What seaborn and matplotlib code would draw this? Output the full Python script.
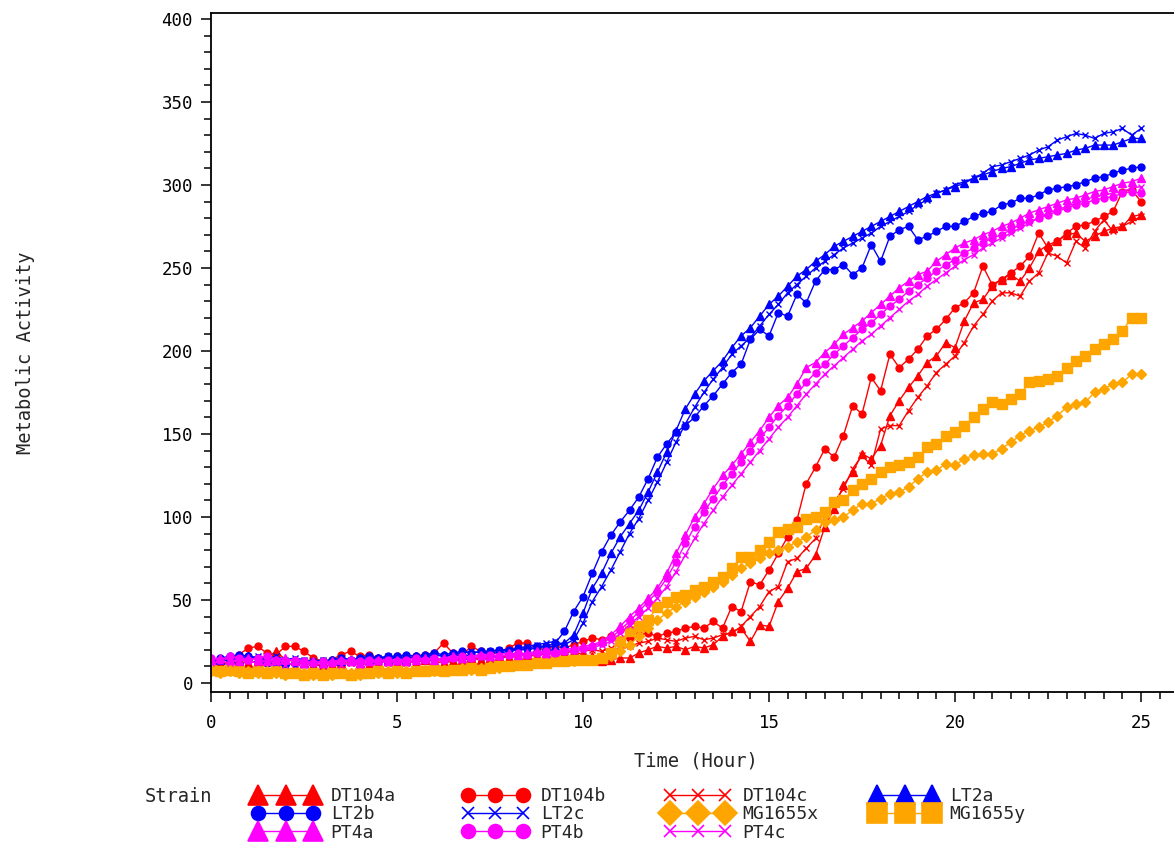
import numpy as np
import pandas as pd
import seaborn as sns
import matplotlib.pyplot as plt
from matplotlib.lines import Line2D
from matplotlib.ticker import MultipleLocator

sns.set_theme(style='ticks')
plt.rcParams['font.family'] = ['DejaVu Sans Mono']

# readings every 15 minutes, 0 - 25 h
hours = np.arange(101) * 0.25

dt104a = [10, 12, 11, 13, 12, 13, 15, 19, 14, 13,
          12, 11, 10, 11, 12, 13, 12, 11, 12, 13,
          12, 13, 12, 14, 13, 12, 13, 14, 15, 14,
          15, 16, 15, 16, 17, 16, 18, 17, 18, 19,
          17,
          16, 13, 14, 15, 15, 18, 20, 22, 21, 22,
          20, 22, 21, 23, 28, 31, 33, 25, 35, 34,
          49, 57, 67, 69, 77, 94, 105, 119, 127, 138,
          135, 143, 161, 170, 178, 185, 193, 197, 205, 202,
          218, 229, 231, 239, 243, 246, 242, 250, 260, 264,
          266, 270, 271, 266, 269, 272, 274, 275, 281, 282]
dt104b = [12, 13, 14, 17, 21, 22, 18, 17, 22, 22,
          19, 15, 13, 14, 17, 19, 16, 17, 15, 15,
          16, 15, 16, 17, 18, 24, 18, 17, 22, 19,
          18, 19, 21, 24, 24, 21, 20, 22, 21, 23,
          25,
          27, 26, 28, 26, 27, 29, 30, 28, 30, 31,
          33, 34, 33, 37, 33, 46, 43, 61, 59, 68,
          78, 88, 98, 120, 130, 141, 136, 149, 167, 162,
          184, 176, 198, 190, 195, 201, 209, 213, 219, 226,
          229, 235, 251, 240, 243, 247, 251, 257, 271, 262,
          266, 271, 275, 276, 278, 281, 284, 296, 297, 290]
dt104c = [11, 12, 12, 11, 13, 12, 12, 13, 12, 11,
          12, 11, 11, 10, 11, 12, 11, 12, 13, 12,
          13, 12, 13, 13, 14, 13, 14, 15, 14, 15,
          15, 16, 16, 17, 16, 17, 18, 18, 19, 20,
          19,
          20, 19, 21, 20, 22, 24, 25, 27, 26, 25,
          27, 28, 26, 27, 29, 30, 34, 40, 46, 55,
          58, 73, 75, 81, 87, 100, 109, 117, 129, 137,
          131, 153, 155, 155, 164, 172, 179, 187, 192, 197,
          205, 215, 222, 230, 235, 235, 233, 242, 247, 259,
          257, 253, 266, 262, 272, 279, 272, 275, 278, 281]
lt2a = [13, 14, 15, 14, 16, 15, 14, 15, 13, 14,
        12, 13, 12, 14, 13, 14, 15, 14, 15, 14,
        15, 14, 16, 15, 16, 17, 16, 17, 16, 17,
        18, 18, 19, 20, 20, 21, 22, 22, 24, 29,
        42,
        57, 66, 78, 88, 96, 104, 115, 127, 139, 152,
        165, 174, 182, 188, 194, 202, 209, 214, 221, 228,
        233, 239, 245, 249, 254, 258, 263, 266, 269, 272,
        275, 278, 281, 284, 287, 290, 293, 295, 297, 299,
        301, 304, 306, 308, 310, 311, 313, 315, 316, 317,
        318, 319, 321, 322, 324, 324, 324, 326, 328, 328]
lt2b = [14, 15, 16, 17, 16, 15, 12, 11, 11, 12,
        13, 12, 13, 14, 15, 14, 15, 16, 15, 16,
        16, 17, 16, 17, 18, 17, 18, 19, 18, 19,
        19, 20, 20, 21, 21, 22, 22, 24, 31, 43,
        52,
        66, 79, 89, 97, 104, 112, 123, 136, 144, 151,
        155, 160, 167, 173, 180, 187, 192, 207, 213, 209,
        223, 221, 234, 229, 242, 249, 249, 252, 246, 250,
        264, 254, 269, 273, 275, 267, 269, 272, 275, 275,
        278, 281, 283, 284, 288, 289, 292, 292, 294, 297,
        298, 299, 300, 302, 304, 305, 307, 309, 310, 311]
lt2c = [12, 13, 14, 16, 15, 16, 15, 16, 14, 15,
        14, 13, 14, 13, 15, 14, 13, 14, 15, 16,
        15, 16, 15, 16, 17, 16, 17, 18, 19, 18,
        19, 20, 19, 21, 22, 23, 24, 25, 23, 26,
        36,
        49, 58, 68, 79, 90, 99, 110, 121, 133, 145,
        156, 166, 175, 183, 190, 198, 203, 208, 215, 222,
        228, 235, 240, 245, 250, 254, 258, 262, 265, 268,
        271, 275, 278, 281, 284, 288, 291, 295, 297, 300,
        302, 304, 307, 311, 312, 314, 316, 318, 321, 323,
        327, 329, 331, 330, 328, 331, 332, 334, 330, 334]
mg1655x = [7, 6, 7, 6, 7, 6, 7, 6, 5, 6,
           6, 5, 6, 5, 6, 6, 5, 6, 6, 7,
           6, 7, 7, 8, 7, 8, 8, 9, 8, 9,
           10, 9, 10, 11, 11, 12, 12, 13, 13, 13,
           14,
           14, 15, 16, 19, 23, 28, 33, 38, 42, 46,
           49, 52, 55, 58, 61, 65, 69, 72, 75, 78,
           80, 82, 85, 88, 92, 97, 98, 100, 104, 108,
           108, 111, 114, 115, 118, 123, 127, 128, 132, 131,
           135, 137, 138, 138, 141, 145, 149, 152, 154, 157,
           161, 166, 168, 169, 175, 177, 180, 181, 186, 186]
mg1655y = [8, 7, 8, 7, 6, 7, 6, 7, 6, 6,
           5, 6, 5, 6, 6, 5, 6, 6, 7, 6,
           7, 6, 7, 7, 8, 7, 8, 8, 9, 8,
           9, 10, 10, 11, 11, 12, 12, 13, 13, 14,
           14,
           14, 15, 18, 25, 31, 34, 38, 46, 49, 52,
           53, 56, 58, 61, 64, 69, 76, 76, 80, 85,
           91, 93, 94, 99, 100, 103, 109, 110, 116, 120,
           123, 127, 130, 131, 133, 136, 142, 144, 149, 151,
           155, 160, 165, 169, 168, 171, 174, 181, 182, 183,
           185, 190, 194, 197, 201, 204, 207, 212, 220, 220]
pt4a = [14, 15, 14, 13, 15, 14, 13, 14, 15, 13,
        12, 13, 12, 13, 14, 13, 12, 13, 14, 13,
        14, 13, 14, 15, 14, 15, 16, 15, 16, 17,
        16, 17, 18, 17, 18, 19, 18, 19, 20, 21,
        22,
        23, 25, 29, 34, 40, 45, 51, 57, 66, 78,
        89, 100, 108, 117, 125, 131, 138, 145, 152, 160,
        167, 172, 180, 190, 193, 199, 204, 210, 214, 218,
        223, 228, 233, 238, 242, 246, 248, 254, 258, 262,
        265, 267, 270, 272, 275, 277, 280, 283, 285, 287,
        289, 291, 292, 294, 296, 297, 299, 301, 302, 304]
pt4b = [15, 14, 16, 15, 14, 15, 16, 14, 13, 14,
        13, 12, 13, 12, 13, 14, 13, 14, 13, 14,
        13, 14, 15, 14, 15, 14, 15, 16, 15, 16,
        17, 16, 17, 18, 17, 18, 19, 18, 19, 20,
        21,
        22, 24, 27, 32, 37, 43, 49, 55, 63, 73,
        84, 94, 103, 111, 119, 126, 133, 140, 147, 154,
        161, 167, 174, 181, 187, 192, 198, 203, 208, 213,
        217, 222, 227, 231, 236, 240, 244, 248, 252, 255,
        259, 262, 265, 268, 270, 273, 276, 278, 280, 282,
        284, 286, 288, 289, 291, 292, 293, 295, 296, 295]
pt4c = [12, 13, 12, 14, 13, 12, 13, 12, 11, 12,
        11, 12, 11, 12, 11, 12, 11, 12, 13, 12,
        13, 12, 13, 14, 13, 14, 15, 14, 15, 16,
        15, 16, 17, 16, 17, 18, 17, 18, 19, 19,
        20,
        21, 23, 25, 30, 35, 40, 45, 51, 58, 67,
        77, 87, 96, 104, 112, 119, 126, 133, 140, 147,
        154, 160, 167, 174, 180, 186, 191, 196, 201, 206,
        210, 215, 220, 225, 230, 234, 239, 243, 247, 251,
        255, 258, 262, 265, 268, 271, 274, 277, 280, 283,
        285, 287, 289, 291, 293, 294, 295, 296, 298, 299]

strains = ['DT104a', 'DT104b', 'DT104c', 'LT2a', 'LT2b', 'LT2c',
           'MG1655x', 'MG1655y', 'PT4a', 'PT4b', 'PT4c']
series = [dt104a, dt104b, dt104c, lt2a, lt2b, lt2c,
          mg1655x, mg1655y, pt4a, pt4b, pt4c]

red, blue, orange, magenta = '#ff0000', '#0000ff', '#ffa500', '#ff00ff'
colors = [red, red, red, blue, blue, blue, orange, orange, magenta, magenta, magenta]
markers = ['^', 'o', 'x', '^', 'o', 'x', 'D', 's', '^', 'o', 'x']
msizes = {'^': 6, 'o': 5, 'x': 5, 'D': 5, 's': 7.5}
leg_sizes = {'^': 14, 'o': 10, 'x': 9, 'D': 12, 's': 15}

df = pd.DataFrame({'hour': np.tile(hours, len(strains)),
                   'activity': np.concatenate(series),
                   'strain': np.repeat(strains, len(hours))})

fig = plt.figure(figsize=(11.74, 8.49), dpi=100)
ax = fig.add_axes([211 / 1174, 1 - 691.7 / 849, 963 / 1174, 678.4 / 849])

for name, c, m in zip(strains, colors, markers):
    sub = df[df['strain'] == name]
    sns.lineplot(data=sub, x='hour', y='activity', ax=ax, color=c, marker=m,
                 markersize=msizes[m], markeredgecolor=c, markeredgewidth=1,
                 linewidth=1, estimator=None, legend=False)

ax.set_xlim(0, (1174 - 211) / 37.2)
ax.set_ylim(-5.3, 403.4)
ax.xaxis.set_major_locator(MultipleLocator(5))
ax.xaxis.set_minor_locator(MultipleLocator(0.5))
ax.yaxis.set_major_locator(MultipleLocator(50))
ax.yaxis.set_minor_locator(MultipleLocator(10))
ax.tick_params(which='major', direction='out', length=7, width=1.1, labelsize=12.5,
               color='black', labelcolor='black')
ax.tick_params(axis='x', which='major', pad=9)
ax.tick_params(axis='y', which='major', pad=6)
ax.tick_params(which='minor', direction='out', length=5, width=1.1, color='black')
ax.spines['right'].set_visible(False)
for s in ['left', 'bottom', 'top']:
    ax.spines[s].set_linewidth(1.3)
    ax.spines[s].set_color('black')

ax.set_xlabel('Time (Hour)', fontsize=13.5)
ax.set_ylabel('Metabolic Activity', fontsize=13.5)
ax.xaxis.set_label_coords(0.503, -0.088)
ax.yaxis.set_label_coords(-0.183, 0.5)

# legend: "Strain" then four columns of entries
fig.text(178 / 1174, 1 - 797 / 849, 'Strain', fontsize=13.5, ha='center', va='center')
columns = [(253, ['DT104a', 'LT2b', 'PT4a']),
           (463, ['DT104b', 'LT2c', 'PT4b']),
           (665, ['DT104c', 'MG1655x', 'PT4c']),
           (872, ['LT2a', 'MG1655y'])]
for x0, names in columns:
    handles = []
    for name in names:
        i = strains.index(name)
        handles.append(Line2D([], [], color=colors[i], marker=markers[i], lw=1,
                              markersize=leg_sizes[markers[i]],
                              markeredgecolor=colors[i], markeredgewidth=1.2))
    fig.legend(handles, names, loc='upper left', bbox_to_anchor=(x0 / 1174, 1 - 787 / 849),
               frameon=False, numpoints=3, fontsize=13, handlelength=3.6,
               handletextpad=0.7, borderpad=0, borderaxespad=0, labelspacing=0.02,
               handleheight=0.7)

fig.savefig('out.png', dpi=100, facecolor='white')
